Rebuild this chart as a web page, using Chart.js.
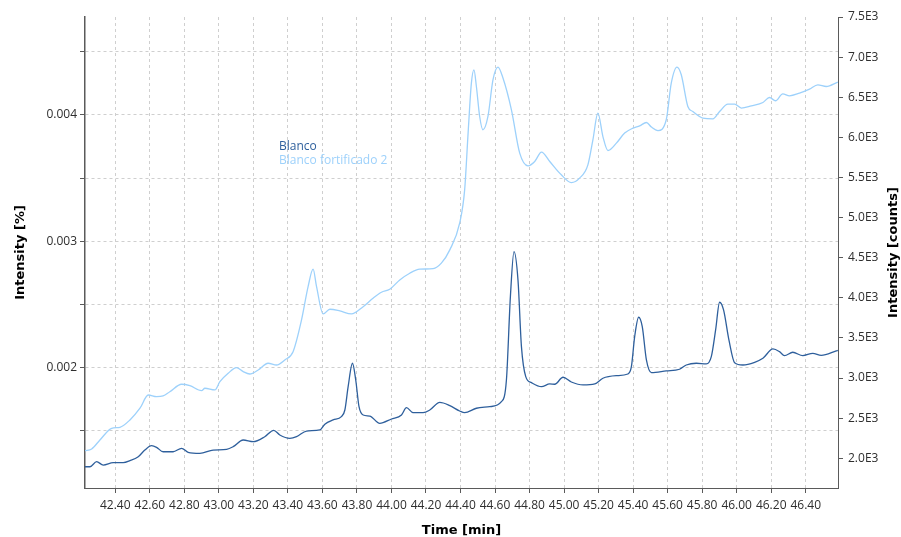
<!DOCTYPE html>
<html>
<head>
<meta charset="utf-8">
<script src="https://cdn.jsdelivr.net/npm/chart.js@4.4.1/dist/chart.umd.min.js"></script>
<style>
  html, body { margin: 0; padding: 0; background: #ffffff; }
  canvas { display: block; }
</style>
</head>
<body>
<canvas id="chromatogram" width="901" height="537" style="width:901px;height:537px"></canvas>
<script>
// Retention time [min] and detector response [counts] for each trace
const blancoTime = [
  42.224, 42.253, 42.292, 42.330, 42.388, 42.446, 42.485, 42.533, 42.571, 42.610,
  42.639, 42.677, 42.735, 42.784, 42.822, 42.890, 42.967, 43.045, 43.083, 43.141,
  43.199, 43.266, 43.318, 43.353, 43.411, 43.450, 43.508, 43.585, 43.614, 43.662,
  43.710, 43.730, 43.749, 43.774, 43.793, 43.812, 43.836, 43.874, 43.932, 44.000,
  44.058, 44.087, 44.125, 44.183, 44.222, 44.280, 44.338, 44.395, 44.424, 44.492,
  44.569, 44.637, 44.666, 44.689, 44.710, 44.733, 44.753, 44.778, 44.811, 44.869,
  44.917, 44.946, 44.994, 45.042, 45.110, 45.178, 45.225, 45.303, 45.370, 45.390,
  45.409, 45.432, 45.453, 45.477, 45.506, 45.592, 45.669, 45.708, 45.766, 45.824,
  45.853, 45.878, 45.901, 45.924, 45.955, 45.988, 46.036, 46.104, 46.152, 46.210,
  46.248, 46.277, 46.325, 46.383, 46.441, 46.490, 46.577, 46.586
];
const blancoCounts = [
  1895, 1895, 1958, 1916, 1945, 1945, 1970, 2020, 2103, 2157,
  2137, 2082, 2082, 2125, 2075, 2062, 2103, 2112, 2145, 2228,
  2207, 2269, 2349, 2291, 2249, 2269, 2340, 2353, 2424, 2478,
  2519, 2602, 2893, 3185, 2976, 2643, 2540, 2527, 2436, 2490,
  2540, 2631, 2569, 2569, 2602, 2696, 2656, 2590, 2569, 2624,
  2643, 2706, 2976, 4015, 4576, 4223, 3392, 3018, 2943, 2893,
  2927, 2923, 3010, 2951, 2914, 2927, 2998, 3030, 3051, 3142,
  3516, 3758, 3641, 3226, 3067, 3089, 3110, 3163, 3185, 3176,
  3267, 3600, 3945, 3849, 3475, 3192, 3163, 3197, 3247, 3363,
  3329, 3279, 3322, 3279, 3309, 3284, 3338, 3344
];
const fortTime = [
  42.224, 42.263, 42.311, 42.379, 42.427, 42.485, 42.543, 42.591, 42.639, 42.677,
  42.716, 42.784, 42.832, 42.900, 42.919, 42.977, 43.006, 43.054, 43.102, 43.141,
  43.179, 43.228, 43.285, 43.334, 43.382, 43.430, 43.479, 43.517, 43.546, 43.566,
  43.604, 43.643, 43.701, 43.768, 43.836, 43.893, 43.942, 43.990, 44.048, 44.106,
  44.164, 44.241, 44.289, 44.338, 44.395, 44.424, 44.444, 44.463, 44.478, 44.492,
  44.511, 44.530, 44.559, 44.588, 44.617, 44.646, 44.695, 44.743, 44.791, 44.830,
  44.869, 44.917, 44.984, 45.042, 45.090, 45.138, 45.167, 45.196, 45.225, 45.254,
  45.303, 45.351, 45.399, 45.438, 45.477, 45.506, 45.544, 45.592, 45.621, 45.654,
  45.679, 45.717, 45.746, 45.804, 45.862, 45.901, 45.949, 45.988, 46.027, 46.085,
  46.152, 46.190, 46.225, 46.267, 46.306, 46.364, 46.422, 46.470, 46.519, 46.586
];
const fortCounts = [
  2095, 2116, 2228, 2374, 2387, 2478, 2624, 2789, 2768, 2777,
  2830, 2923, 2905, 2843, 2873, 2852, 2955, 3060, 3130, 3080,
  3051, 3101, 3185, 3163, 3226, 3329, 3725, 4140, 4357, 4140,
  3799, 3858, 3837, 3799, 3890, 3995, 4070, 4107, 4223, 4307,
  4357, 4364, 4432, 4598, 4930, 5346, 6053, 6676, 6842, 6634,
  6260, 6094, 6260, 6717, 6876, 6739, 6343, 5803, 5645, 5699,
  5816, 5699, 5533, 5437, 5492, 5657, 5969, 6302, 6010, 5836,
  5928, 6053, 6115, 6144, 6185, 6128, 6085, 6219, 6676, 6876,
  6780, 6384, 6322, 6240, 6231, 6322, 6414, 6414, 6365, 6393,
  6434, 6497, 6456, 6543, 6518, 6552, 6601, 6655, 6634, 6689
];
const seriesNames = ['Blanco', 'Blanco fortificado 2'];

// Axis ranges and tick labels
const timeRange = [42.2245, 46.587];
const countRange = [1630, 7500];
const percentRange = [0.001048, 0.004775];
const timeTicks = [42.4, 42.6, 42.8, 43.0, 43.2, 43.4, 43.6, 43.8, 44.0, 44.2, 44.4,
                   44.6, 44.8, 45.0, 45.2, 45.4, 45.6, 45.8, 46.0, 46.2, 46.4];
const timeTickLabels = ['42.40', '42.60', '42.80', '43.00', '43.20', '43.40', '43.60',
                        '43.80', '44.00', '44.20', '44.40', '44.60', '44.80', '45.00',
                        '45.20', '45.40', '45.60', '45.80', '46.00', '46.20', '46.40'];
const percentTicks = [0.0015, 0.002, 0.0025, 0.003, 0.0035, 0.004, 0.0045];
const percentTickLabels = ['', '0.002', '', '0.003', '', '0.004', ''];
const countTicks = [2000, 2500, 3000, 3500, 4000, 4500, 5000, 5500, 6000, 6500, 7000, 7500];
const countTickLabels = ['2.0E3', '2.5E3', '3.0E3', '3.5E3', '4.0E3', '4.5E3',
                         '5.0E3', '5.5E3', '6.0E3', '6.5E3', '7.0E3', '7.5E3'];

const DARK_BLUE = '#2e5f9c';
const LIGHT_BLUE = '#9dd1fb';
const TICK_FONT = { family: "'Open Sans', 'Noto Sans', sans-serif", size: 12 };
const TITLE_FONT = { family: "'DejaVu Sans', sans-serif", size: 13, weight: 'bold', lineHeight: 1 };
const TICK_COLOR = '#2e2e2e';
const AXIS_COLOR = '#5a5a5a';
const GRID_COLOR = '#cfcfcf';

const toPoints = (xs, ys) => xs.map((x, i) => ({ x: x, y: ys[i] }));

// In-plot legend text and the right-hand axis title (drawn bottom-to-top)
const overlayText = {
  id: 'overlayText',
  afterDraw(chart) {
    const ctx = chart.ctx;
    const area = chart.chartArea;
    ctx.save();
    ctx.font = "12px 'Open Sans', 'Noto Sans', sans-serif";
    ctx.textAlign = 'left';
    ctx.textBaseline = 'middle';
    chart.data.datasets.forEach((ds, i) => {
      ctx.fillStyle = ds.borderColor;
      ctx.fillText(ds.label, area.left + 194, area.top + 130 + i * 14);
    });
    ctx.restore();

    ctx.save();
    ctx.font = "bold 13px 'DejaVu Sans', sans-serif";
    ctx.fillStyle = '#000000';
    ctx.textAlign = 'center';
    ctx.textBaseline = 'middle';
    ctx.translate(chart.width - 7, (area.top + area.bottom) / 2);
    ctx.rotate(-Math.PI / 2);
    ctx.fillText('Intensity [counts]', 0, 0);
    ctx.restore();
  }
};

new Chart(document.getElementById('chromatogram'), {
  type: 'line',
  data: {
    datasets: [
      {
        label: seriesNames[0],
        data: toPoints(blancoTime, blancoCounts),
        borderColor: DARK_BLUE,
        borderWidth: 1.3,
        pointRadius: 0,
        cubicInterpolationMode: 'monotone',
        yAxisID: 'yr'
      },
      {
        label: seriesNames[1],
        data: toPoints(fortTime, fortCounts),
        borderColor: LIGHT_BLUE,
        borderWidth: 1.3,
        pointRadius: 0,
        cubicInterpolationMode: 'monotone',
        yAxisID: 'yr'
      }
    ]
  },
  options: {
    responsive: false,
    devicePixelRatio: 1,
    animation: false,
    layout: { padding: { top: 17, left: 0, right: 0, bottom: 0 } },
    plugins: { legend: { display: false }, tooltip: { enabled: false }, title: { display: false } },
    scales: {
      x: {
        type: 'linear',
        position: 'bottom',
        min: timeRange[0],
        max: timeRange[1],
        afterBuildTicks: s => { s.ticks = timeTicks.map(v => ({ value: v })); },
        afterFit: s => { s.height = 49; },
        ticks: {
          callback: (v, i) => timeTickLabels[i],
          autoSkip: false, maxRotation: 0, padding: 5,
          font: TICK_FONT, color: TICK_COLOR
        },
        grid: { color: GRID_COLOR, lineWidth: 1, tickColor: AXIS_COLOR, tickLength: 5 },
        border: { color: AXIS_COLOR, width: 1, dash: [3, 3] },
        title: {
          display: true, text: 'Time [min]', font: TITLE_FONT, color: '#000000',
          padding: { top: 0, bottom: 0 }
        }
      },
      yl: {
        type: 'linear',
        position: 'left',
        min: percentRange[0],
        max: percentRange[1],
        afterBuildTicks: s => { s.ticks = percentTicks.map(v => ({ value: v })); },
        afterFit: s => { s.width = 85; },
        ticks: {
          callback: (v, i) => percentTickLabels[i],
          autoSkip: false, padding: 3,
          font: TICK_FONT, color: TICK_COLOR
        },
        grid: { color: GRID_COLOR, lineWidth: 1, tickColor: AXIS_COLOR, tickLength: 5 },
        border: { color: AXIS_COLOR, width: 1.5, dash: [3, 3] },
        title: {
          display: true, text: 'Intensity [%]', font: TITLE_FONT, color: '#000000',
          padding: { top: 14, bottom: 0 }
        }
      },
      yr: {
        type: 'linear',
        position: 'right',
        min: countRange[0],
        max: countRange[1],
        afterBuildTicks: s => { s.ticks = countTicks.map(v => ({ value: v })); },
        afterFit: s => { s.width = 63; },
        ticks: {
          callback: (v, i) => countTickLabels[i],
          autoSkip: false, padding: 5,
          font: TICK_FONT, color: TICK_COLOR
        },
        grid: { drawOnChartArea: false, tickColor: AXIS_COLOR, tickLength: 5 },
        border: { color: AXIS_COLOR, width: 1 }
      }
    }
  },
  plugins: [overlayText]
});
</script>
</body>
</html>
